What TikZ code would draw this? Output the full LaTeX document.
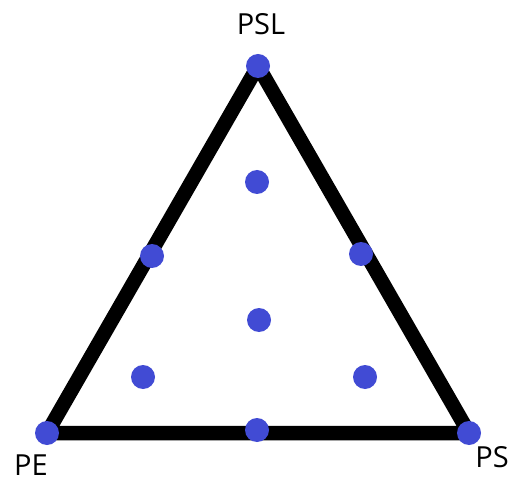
\documentclass[tikz,border=0pt]{standalone}
\usepackage{fontspec}
\setmainfont{Open Sans}
\definecolor{dotblue}{RGB}{65,75,212}
\begin{document}
\begin{tikzpicture}[x=1pt,y=1pt,
  dot/.style={circle,fill=dotblue,inner sep=0pt,minimum size=24pt},
  lbl/.style={font=\fontsize{29}{34}\selectfont,inner sep=0pt,anchor=center}]
\useasboundingbox (0,0) rectangle (513,482);
\coordinate (T) at (258,416);
\coordinate (L) at (47,49);
\coordinate (R) at (469,49);
\draw[line width=14.5pt,line join=round] (T) -- (R) -- (L) -- cycle;
\node[dot] (vT) at (T) {};
\node[dot] (vL) at (L) {};
\node[dot] (vR) at (R) {};
\node[dot] (a) at (152,226) {};
\node[dot] (b) at (361,228) {};
\node[dot] (c) at (257,300) {};
\node[dot] (d) at (259,162) {};
\node[dot] (e) at (143,105) {};
\node[dot] (f) at (365,105) {};
\node[dot] (g) at (257,52) {};
\node[lbl] (tPSL) at (261,458) {PSL};
\node[lbl] (tPE) at (31,17) {PE};
\node[lbl] (tPS) at (492,25) {PS};
\end{tikzpicture}
\end{document}
